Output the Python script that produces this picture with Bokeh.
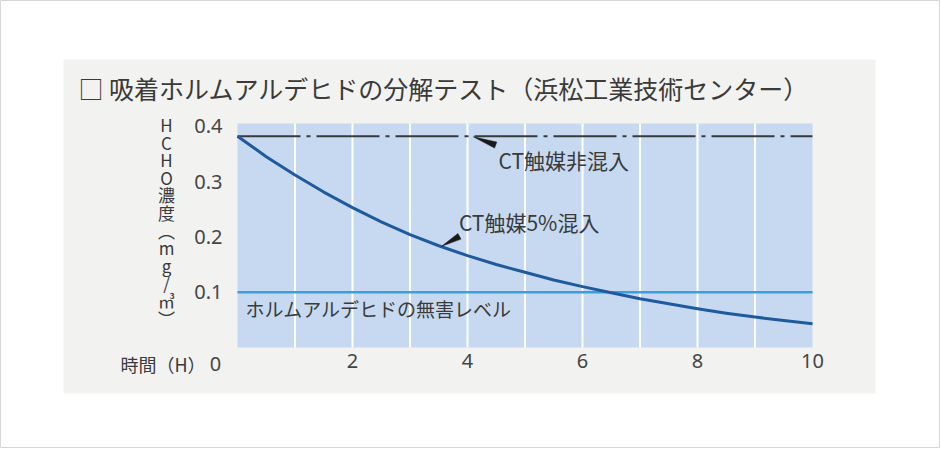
from bokeh.plotting import figure
from bokeh.models import Label
from bokeh.embed import file_html
from bokeh.resources import INLINE

# data (half-hour readings of the curve)
hours = [0, 0.5, 1, 1.5, 2, 2.5, 3, 3.5, 4, 4.5, 5,
         5.5, 6, 6.5, 7, 7.5, 8, 8.5, 9, 9.5, 10]
ct_5pct = [0.382, 0.345, 0.312, 0.281, 0.253, 0.227, 0.204, 0.184, 0.166, 0.150, 0.136,
           0.122, 0.110, 0.099, 0.088, 0.079, 0.070, 0.062, 0.055, 0.049, 0.043]
level_hours = [0, 10]
ct_none = [0.382, 0.382]
safe_level = [0.1, 0.1]

x_ticks = [2, 4, 6, 8, 10]
y_ticks = [0.1, 0.2, 0.3, 0.4]
grid_hours = [1, 2, 3, 4, 5, 6, 7, 8, 9]
y_top = 0.405

title_text = "□ 吸着ホルムアルデヒドの分解テスト（浜松工業技術センター）"
y_label_chars = ["H", "C", "H", "O", "濃", "度", "︵", "m", "g", "/", "㎥", "︶"]
x_label_text = "時間（H）"

# annotations: (text, x, y, size) in data units
notes = [
    ("CT触媒非混入", 4.54, 0.339, "21px"),
    ("CT触媒5%混入", 3.85, 0.227, "21px"),
    ("ホルムアルデヒドの無害レベル", 0.14, 0.071, "19px"),
]
# pointer wedges: tip and tail in data units
pointer_tips = [(4.10, 0.381), (3.55, 0.183)]
pointer_tails = [(4.49, 0.366), (3.86, 0.201)]

JP = "Noto Sans CJK JP"
NUM = "Noto Sans"
TEXT = "#3a3a3a"

# page geometry (pixels from the top-left of the canvas)
CANVAS_W, CANVAS_H = 940, 448
PANEL = (63, 59, 875, 393)          # grey panel: left, top, right, bottom
AREA = (237, 123, 812, 347)         # blue plot area: left, top, right, bottom

px_x = (AREA[2] - AREA[0]) / (hours[-1] - hours[0])
px_y = (AREA[3] - AREA[1]) / y_top


def to_x(px):
    return hours[0] + (px - AREA[0]) / px_x


def to_y(py):
    return (AREA[3] - py) / px_y


p = figure(
    width=CANVAS_W, height=CANVAS_H,
    x_range=(to_x(0), to_x(CANVAS_W)), y_range=(to_y(CANVAS_H), to_y(0)),
    output_backend="svg", toolbar_location=None,
    min_border=0,
    background_fill_color="white",
    border_fill_color="white",
    outline_line_color="#d6d6d6",
    outline_line_width=1,
)
p.xgrid.grid_line_color = None
p.ygrid.grid_line_color = None

# grey panel, blue plot area and its white hour lines
p.quad(left=to_x(PANEL[0]), right=to_x(PANEL[2]), bottom=to_y(PANEL[3]), top=to_y(PANEL[1]),
       fill_color="#f2f2f0", line_color=None)
p.quad(left=hours[0], right=hours[-1], bottom=0, top=y_top,
       fill_color="#c6d9f0", line_color=None)
p.segment(x0=grid_hours, y0=0, x1=grid_hours, y1=y_top, line_color="white", line_width=2)

for ax in (p.xaxis, p.yaxis):
    ax.fixed_location = 0
    ax.axis_line_color = None
    ax.major_tick_line_color = None
    ax.minor_tick_line_color = None
    ax.major_tick_out = 0
    ax.major_tick_in = 0
    ax.major_label_text_font = NUM
    ax.major_label_text_font_size = "20px"
    ax.major_label_text_color = "#454545"

p.xaxis.ticker = x_ticks
p.xaxis.major_label_standoff = 6
p.yaxis.ticker = y_ticks
p.yaxis.major_label_standoff = 15

p.line(level_hours, safe_level, color="#3aa0dc", line_width=2.5)
p.line(level_hours, ct_none, color="#3a3a3a", line_width=2, line_dash="63 6 4 6")
p.line(hours, ct_5pct, color="#1f5a9e", line_width=3, line_join="round")

# little black pointers from the notes to their lines
wedge_xs, wedge_ys = [], []
for (tx, ty), (ex, ey) in zip(pointer_tips, pointer_tails):
    dx, dy = (ex - tx) * px_x, (ey - ty) * px_y
    ln = (dx * dx + dy * dy) ** 0.5
    nx, ny = -dy / ln * 3.2, dx / ln * 3.2
    wedge_xs.append([tx, ex + nx / px_x, ex - nx / px_x])
    wedge_ys.append([ty, ey + ny / px_y, ey - ny / px_y])
p.patches(wedge_xs, wedge_ys, fill_color="#1a1a1a", line_color="#1a1a1a", line_width=0.5)

for txt, x, y, size in notes:
    p.add_layout(Label(x=x, y=y, text=txt, text_font=JP, text_font_size=size,
                       text_color=TEXT, text_baseline="middle"))

# texts around the plot area, placed in page pixels
p.add_layout(Label(x=to_x(78), y=to_y(87), text=title_text,
                   text_font=JP, text_font_size="25px", text_color=TEXT,
                   text_baseline="middle"))

for i, ch in enumerate(y_label_chars):
    p.add_layout(Label(x=to_x(166), y=to_y(124 + i * 17.6),
                       text=ch, text_font=JP, text_font_size="17px", text_color=TEXT,
                       text_align="center", text_baseline="middle"))

p.add_layout(Label(x=to_x(205), y=to_y(363), text=x_label_text,
                   text_font=JP, text_font_size="18px", text_color=TEXT,
                   text_align="right", text_baseline="middle"))
p.add_layout(Label(x=to_x(215), y=to_y(363), text="0",
                   text_font=NUM, text_font_size="20px", text_color="#454545",
                   text_align="center", text_baseline="middle"))

open("out.html", "w", encoding="utf-8").write(file_html(p, INLINE, "HCHO"))
